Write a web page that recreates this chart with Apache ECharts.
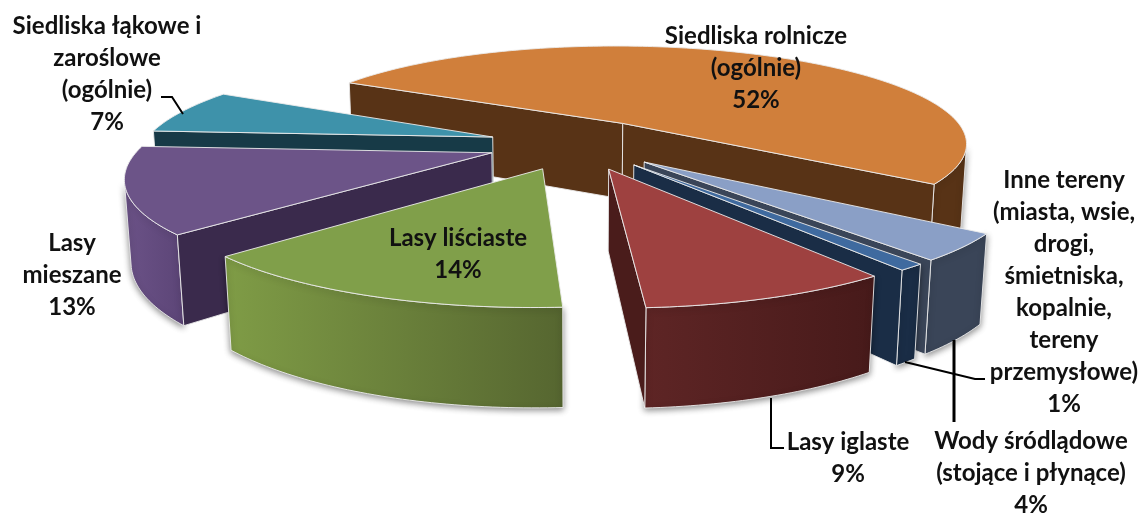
<!DOCTYPE html>
<html>
<head>
<meta charset="utf-8">
<script src="https://cdn.jsdelivr.net/npm/echarts@6/dist/echarts.min.js"></script>
<style>
html, body { margin: 0; padding: 0; background: #fff; }
#chart1 { width: 1144px; height: 515px; }
</style>
</head>
<body>
<div id="chart1"></div>
<script>
// dane w kolejnosci zgodnej z ruchem wskazowek zegara
var categories = ['Siedliska rolnicze\n(ogólnie)', 'Wody śródlądowe\n(stojące i płynące)',
    'Inne tereny\n(miasta, wsie,\ndrogi,\nśmietniska,\nkopalnie,\ntereny\nprzemysłowe)',
    'Lasy iglaste', 'Lasy liściaste', 'Lasy\nmieszane', 'Siedliska łąkowe i\nzaroślowe\n(ogólnie)'];
var values = [52, 4, 1, 9, 14, 13, 7];

var topColors = ['#d07f3b', '#8a9fc6', '#3f6a9f', '#9e4140', '#809f4a', '#6c5488', '#3e92aa'];
var cutColors = ['#583316', '#3a4558', '#1a2d46', '#4a1c1b', '#7f9c46', '#3a2a4c', '#173a47'];
var wallFrom = ['#583316', '#3a4558', '#1a2d46', '#5e2525', '#7f9c46', '#6b5287', '#173a47'];
var wallTo = ['#583316', '#3a4558', '#1a2d46', '#471a1a', '#566630', '#5c4577', '#173a47'];
var labelX = [756, 1031, 1064, 848, 458, 72, 107];
var labelY = [68, 473, 292, 458, 254, 275, 74];

var firstAngle = 298.8, radius = 350, depth = 83, explode = 89;
var tilt = 16.6 * Math.PI / 180, dist = 1700, cx = 577, cy = 144;
var total = values.reduce(function (a, b) { return a + b; }, 0);

function rad(a) { return a * Math.PI / 180; }

function project(x, y, z) {
    var zc = dist + y * Math.cos(tilt) - z * Math.sin(tilt);
    var yc = y * Math.sin(tilt) + z * Math.cos(tilt);
    return [cx + dist * x / zc, cy - dist * yc / zc];
}

// czy sciana o normalnej (nx, ny) w punkcie (px, py) jest widoczna z kamery
function facing(px, py, nx, ny) {
    return (0 - px) * nx + (-dist * Math.cos(tilt) - py) * ny > 0;
}

var starts = [], acc = firstAngle;
values.forEach(function (v) { starts.push(acc); acc += v / total * 360; });

function drawOrder() {
    var idx = values.map(function (v, i) { return i; });
    function mid(i) { return starts[i] + values[i] / total * 180; }
    idx.sort(function (a, b) { return Math.cos(rad(mid(b))) - Math.cos(rad(mid(a))); });
    return idx;
}

function poly(points, fill) {
    return {
        type: 'polygon',
        silent: true,
        shape: { points: points },
        style: { fill: fill, stroke: 'rgba(235,235,235,0.9)', lineWidth: 1 }
    };
}

function renderItem(params, api) {
    var i = api.value(0), sweep = api.value(1) / total * 360;
    var a0 = starts[i], a1 = a0 + sweep, midA = rad(a0 + sweep / 2);
    var ox = explode * Math.sin(midA), oy = explode * Math.cos(midA);
    var children = [];
    var topPts = [project(ox, oy, 0)], wallTop = [], wallBottom = [];

    for (var a = a0; a <= a1 + 0.001; a += sweep / Math.ceil(sweep)) {
        var r = rad(a), px = ox + radius * Math.sin(r), py = oy + radius * Math.cos(r);
        topPts.push(project(px, py, 0));
        if (facing(px, py, Math.sin(r), Math.cos(r))) {
            wallTop.push(project(px, py, 0));
            wallBottom.unshift(project(px, py, -depth));
        }
    }

    function cut(angle, normal) {
        var r = rad(angle), n = rad(normal);
        if (!facing(ox, oy, Math.sin(n), Math.cos(n))) return;
        var ex = ox + radius * Math.sin(r), ey = oy + radius * Math.cos(r);
        children.push(poly([project(ox, oy, 0), project(ex, ey, 0), project(ex, ey, -depth), project(ox, oy, -depth)], cutColors[i]));
    }

    if (wallTop.length > 1) {
        var wall = poly(wallTop.concat(wallBottom), {
            type: 'linear', x: 0, y: 0, x2: 1, y2: 0,
            colorStops: [{ offset: 0, color: wallFrom[i] }, { offset: 1, color: wallTo[i] }]
        });
        wall.style.shadowBlur = 6;
        wall.style.shadowColor = 'rgba(0,0,0,0.45)';
        wall.style.shadowOffsetY = 2;
        children.push(wall);
    }
    cut(a0, a0 - 90);
    cut(a1, a1 + 90);
    children.push(poly(topPts, topColors[i]));
    return { type: 'group', children: children };
}

var labels = categories.map(function (name, i) {
    return {
        type: 'text', z: 100, silent: true, x: labelX[i], y: labelY[i],
        style: {
            text: name + '\n' + values[i] + '%', fill: '#111',
            font: 'bold 24px Lato', lineHeight: 32, align: 'center', verticalAlign: 'middle'
        }
    };
});

function leader(points, width) {
    return {
        type: 'polyline', z: 90, silent: true, shape: { points: points },
        style: { fill: null, stroke: '#000', lineWidth: width || 2 }
    };
}

var myChart = echarts.init(document.getElementById('chart1'));
myChart.setOption({
    backgroundColor: '#fff',
    animation: false,
    graphic: labels.concat([
        leader([[161, 97], [172, 97], [183, 114]]),
        leader([[771, 398], [771, 448], [784, 448]]),
        leader([[954, 340], [954, 422]], 3),
        leader([[905, 362], [975, 379], [985, 379]])
    ]),
    series: [{
        type: 'custom',
        coordinateSystem: 'none',
        renderItem: renderItem,
        data: drawOrder().map(function (i) { return [i, values[i]]; })
    }]
});
</script>
</body>
</html>
